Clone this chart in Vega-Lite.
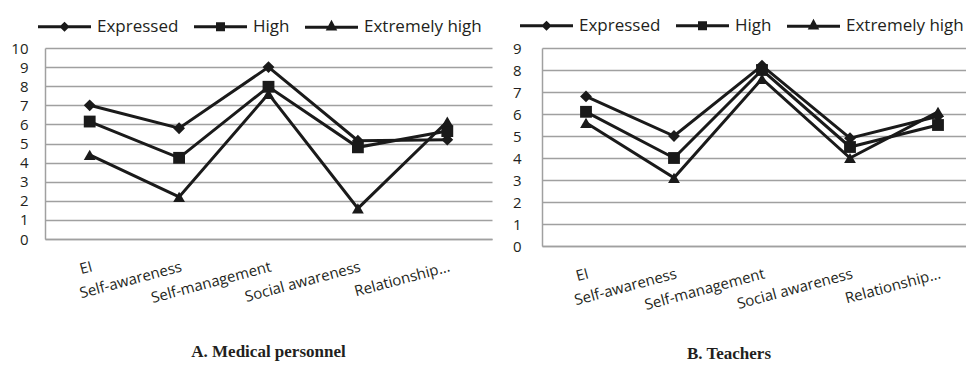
{
  "$schema": "https://vega.github.io/schema/vega-lite/v6.json",
  "background": "white",
  "padding": {"left": 10, "top": 17, "right": 0, "bottom": 10},
  "spacing": 20,
  "datasets": {
    "d": [
      {"panel": "A", "category": "EI", "series": "Expressed", "value": 7.0},
      {"panel": "A", "category": "Self-awareness", "series": "Expressed", "value": 5.8},
      {"panel": "A", "category": "Self-management", "series": "Expressed", "value": 9.0},
      {"panel": "A", "category": "Social awareness", "series": "Expressed", "value": 5.15},
      {"panel": "A", "category": "Relationship...", "series": "Expressed", "value": 5.2},
      {"panel": "A", "category": "EI", "series": "High", "value": 6.15},
      {"panel": "A", "category": "Self-awareness", "series": "High", "value": 4.25},
      {"panel": "A", "category": "Self-management", "series": "High", "value": 7.97},
      {"panel": "A", "category": "Social awareness", "series": "High", "value": 4.8},
      {"panel": "A", "category": "Relationship...", "series": "High", "value": 5.65},
      {"panel": "A", "category": "EI", "series": "Extremely high", "value": 4.4},
      {"panel": "A", "category": "Self-awareness", "series": "Extremely high", "value": 2.2},
      {"panel": "A", "category": "Self-management", "series": "Extremely high", "value": 7.6},
      {"panel": "A", "category": "Social awareness", "series": "Extremely high", "value": 1.6},
      {"panel": "A", "category": "Relationship...", "series": "Extremely high", "value": 6.15},
      {"panel": "B", "category": "EI", "series": "Expressed", "value": 6.8},
      {"panel": "B", "category": "Self-awareness", "series": "Expressed", "value": 5.0},
      {"panel": "B", "category": "Self-management", "series": "Expressed", "value": 8.2},
      {"panel": "B", "category": "Social awareness", "series": "Expressed", "value": 4.9},
      {"panel": "B", "category": "Relationship...", "series": "Expressed", "value": 5.9},
      {"panel": "B", "category": "EI", "series": "High", "value": 6.1},
      {"panel": "B", "category": "Self-awareness", "series": "High", "value": 4.0},
      {"panel": "B", "category": "Self-management", "series": "High", "value": 8.0},
      {"panel": "B", "category": "Social awareness", "series": "High", "value": 4.5},
      {"panel": "B", "category": "Relationship...", "series": "High", "value": 5.5},
      {"panel": "B", "category": "EI", "series": "Extremely high", "value": 5.6},
      {"panel": "B", "category": "Self-awareness", "series": "Extremely high", "value": 3.1},
      {"panel": "B", "category": "Self-management", "series": "Extremely high", "value": 7.6},
      {"panel": "B", "category": "Social awareness", "series": "Extremely high", "value": 4.0},
      {"panel": "B", "category": "Relationship...", "series": "Extremely high", "value": 6.1}
    ]
  },
  "config": {
    "view": {"stroke": null},
    "font": "Open Sans",
    "axis": {
      "labelFont": "Open Sans",
      "labelFontSize": 15,
      "labelColor": "#231f20",
      "domainColor": "#a0a0a0",
      "domainWidth": 1.5,
      "gridColor": "#a0a0a0",
      "gridWidth": 1.5,
      "ticks": false,
      "title": null
    },
    "legend": {
      "labelFont": "Open Sans",
      "labelFontSize": 17,
      "labelColor": "#231f20",
      "title": null,
      "orient": "none",
      "direction": "horizontal",
      "symbolSize": 100,
      "symbolOffset": 22,
      "labelOffset": 24,
      "columnPadding": 9,
      "symbolStrokeWidth": 3,
      "symbolOpacity": 1
    },
    "title": {
      "font": "Liberation Serif",
      "fontSize": 17,
      "fontWeight": "bold",
      "color": "#231f20",
      "orient": "bottom",
      "offset": 39
    }
  },
  "resolve": {
    "scale": {"y": "independent"}
  },
  "hconcat": [
    {
      "width": 447,
      "height": 191,
      "title": {"text": "A. Medical personnel"},
      "data": {"name": "d"},
      "transform": [{"filter": "datum.panel === 'A'"}],
      "encoding": {
        "x": {
          "field": "category",
          "type": "nominal",
          "sort": ["EI", "Self-awareness", "Self-management", "Social awareness", "Relationship..."],
          "scale": {"type": "point", "padding": 0.5},
          "axis": {"labelAngle": -15, "labelAlign": "right", "labelBaseline": "top", "labelPadding": 20, "grid": false}
        },
        "y": {
          "field": "value",
          "type": "quantitative",
          "scale": {"domain": [0, 10], "nice": false},
          "axis": {"values": [0, 1, 2, 3, 4, 5, 6, 7, 8, 9, 10], "labelPadding": 17, "grid": true}
        }
      },
      "resolve": {"scale": {"shape": "independent"}},
      "layer": [
        {
          "mark": {"type": "line", "color": "#1a1a1a", "strokeWidth": 3},
          "encoding": {"detail": {"field": "series"}}
        },
        {
          "mark": {"type": "point", "filled": true, "opacity": 1, "color": "#1a1a1a", "size": 140},
          "encoding": {
            "shape": {
              "field": "series",
              "type": "nominal",
              "scale": {"domain": ["Expressed", "High", "Extremely high"], "range": ["diamond", "square", "triangle-up"]},
              "legend": null
            }
          }
        },
        {
          "mark": {"type": "point", "filled": false, "opacity": 0, "color": "#1a1a1a", "strokeWidth": 3, "size": 100},
          "encoding": {
            "shape": {
              "field": "series",
              "type": "nominal",
              "scale": {
                "domain": ["Expressed", "High", "Extremely high"],
                "range": ["M-5.3,0H5.3M0,-0.6L0.6,0L0,0.6L-0.6,0Z", "M-5.3,0H5.3M-0.6,-0.6H0.6V0.6H-0.6Z", "M-5.3,0H5.3M0,-0.85L0.65,0.35H-0.65Z"]
              },
              "legend": {"legendX": -11, "legendY": -30, "symbolOpacity": 1, "symbolStrokeWidth": 3}
            }
          }
        }
      ]
    },
    {
      "width": 440,
      "height": 198,
      "title": {"text": "B. Teachers", "dx": -33, "offset": 34},
      "data": {"name": "d"},
      "transform": [{"filter": "datum.panel === 'B'"}],
      "encoding": {
        "x": {
          "field": "category",
          "type": "nominal",
          "sort": ["EI", "Self-awareness", "Self-management", "Social awareness", "Relationship..."],
          "scale": {"type": "point", "padding": 0.5},
          "axis": {"labelAngle": -15, "labelAlign": "right", "labelBaseline": "top", "labelPadding": 20, "grid": false}
        },
        "y": {
          "field": "value",
          "type": "quantitative",
          "scale": {"domain": [0, 9], "nice": false},
          "axis": {"values": [0, 1, 2, 3, 4, 5, 6, 7, 8, 9], "labelPadding": 21, "grid": true}
        }
      },
      "resolve": {"scale": {"shape": "independent"}},
      "layer": [
        {
          "mark": {"type": "line", "color": "#1a1a1a", "strokeWidth": 3},
          "encoding": {"detail": {"field": "series"}}
        },
        {
          "mark": {"type": "point", "filled": true, "opacity": 1, "color": "#1a1a1a", "size": 140},
          "encoding": {
            "shape": {
              "field": "series",
              "type": "nominal",
              "scale": {"domain": ["Expressed", "High", "Extremely high"], "range": ["diamond", "square", "triangle-up"]},
              "legend": null
            }
          }
        },
        {
          "mark": {"type": "point", "filled": false, "opacity": 0, "color": "#1a1a1a", "strokeWidth": 3, "size": 100},
          "encoding": {
            "shape": {
              "field": "series",
              "type": "nominal",
              "scale": {
                "domain": ["Expressed", "High", "Extremely high"],
                "range": ["M-5.3,0H5.3M0,-0.6L0.6,0L0,0.6L-0.6,0Z", "M-5.3,0H5.3M-0.6,-0.6H0.6V0.6H-0.6Z", "M-5.3,0H5.3M0,-0.85L0.65,0.35H-0.65Z"]
              },
              "legend": {"legendX": -26, "legendY": -31, "symbolOpacity": 1, "symbolStrokeWidth": 3}
            }
          }
        }
      ]
    }
  ]
}
